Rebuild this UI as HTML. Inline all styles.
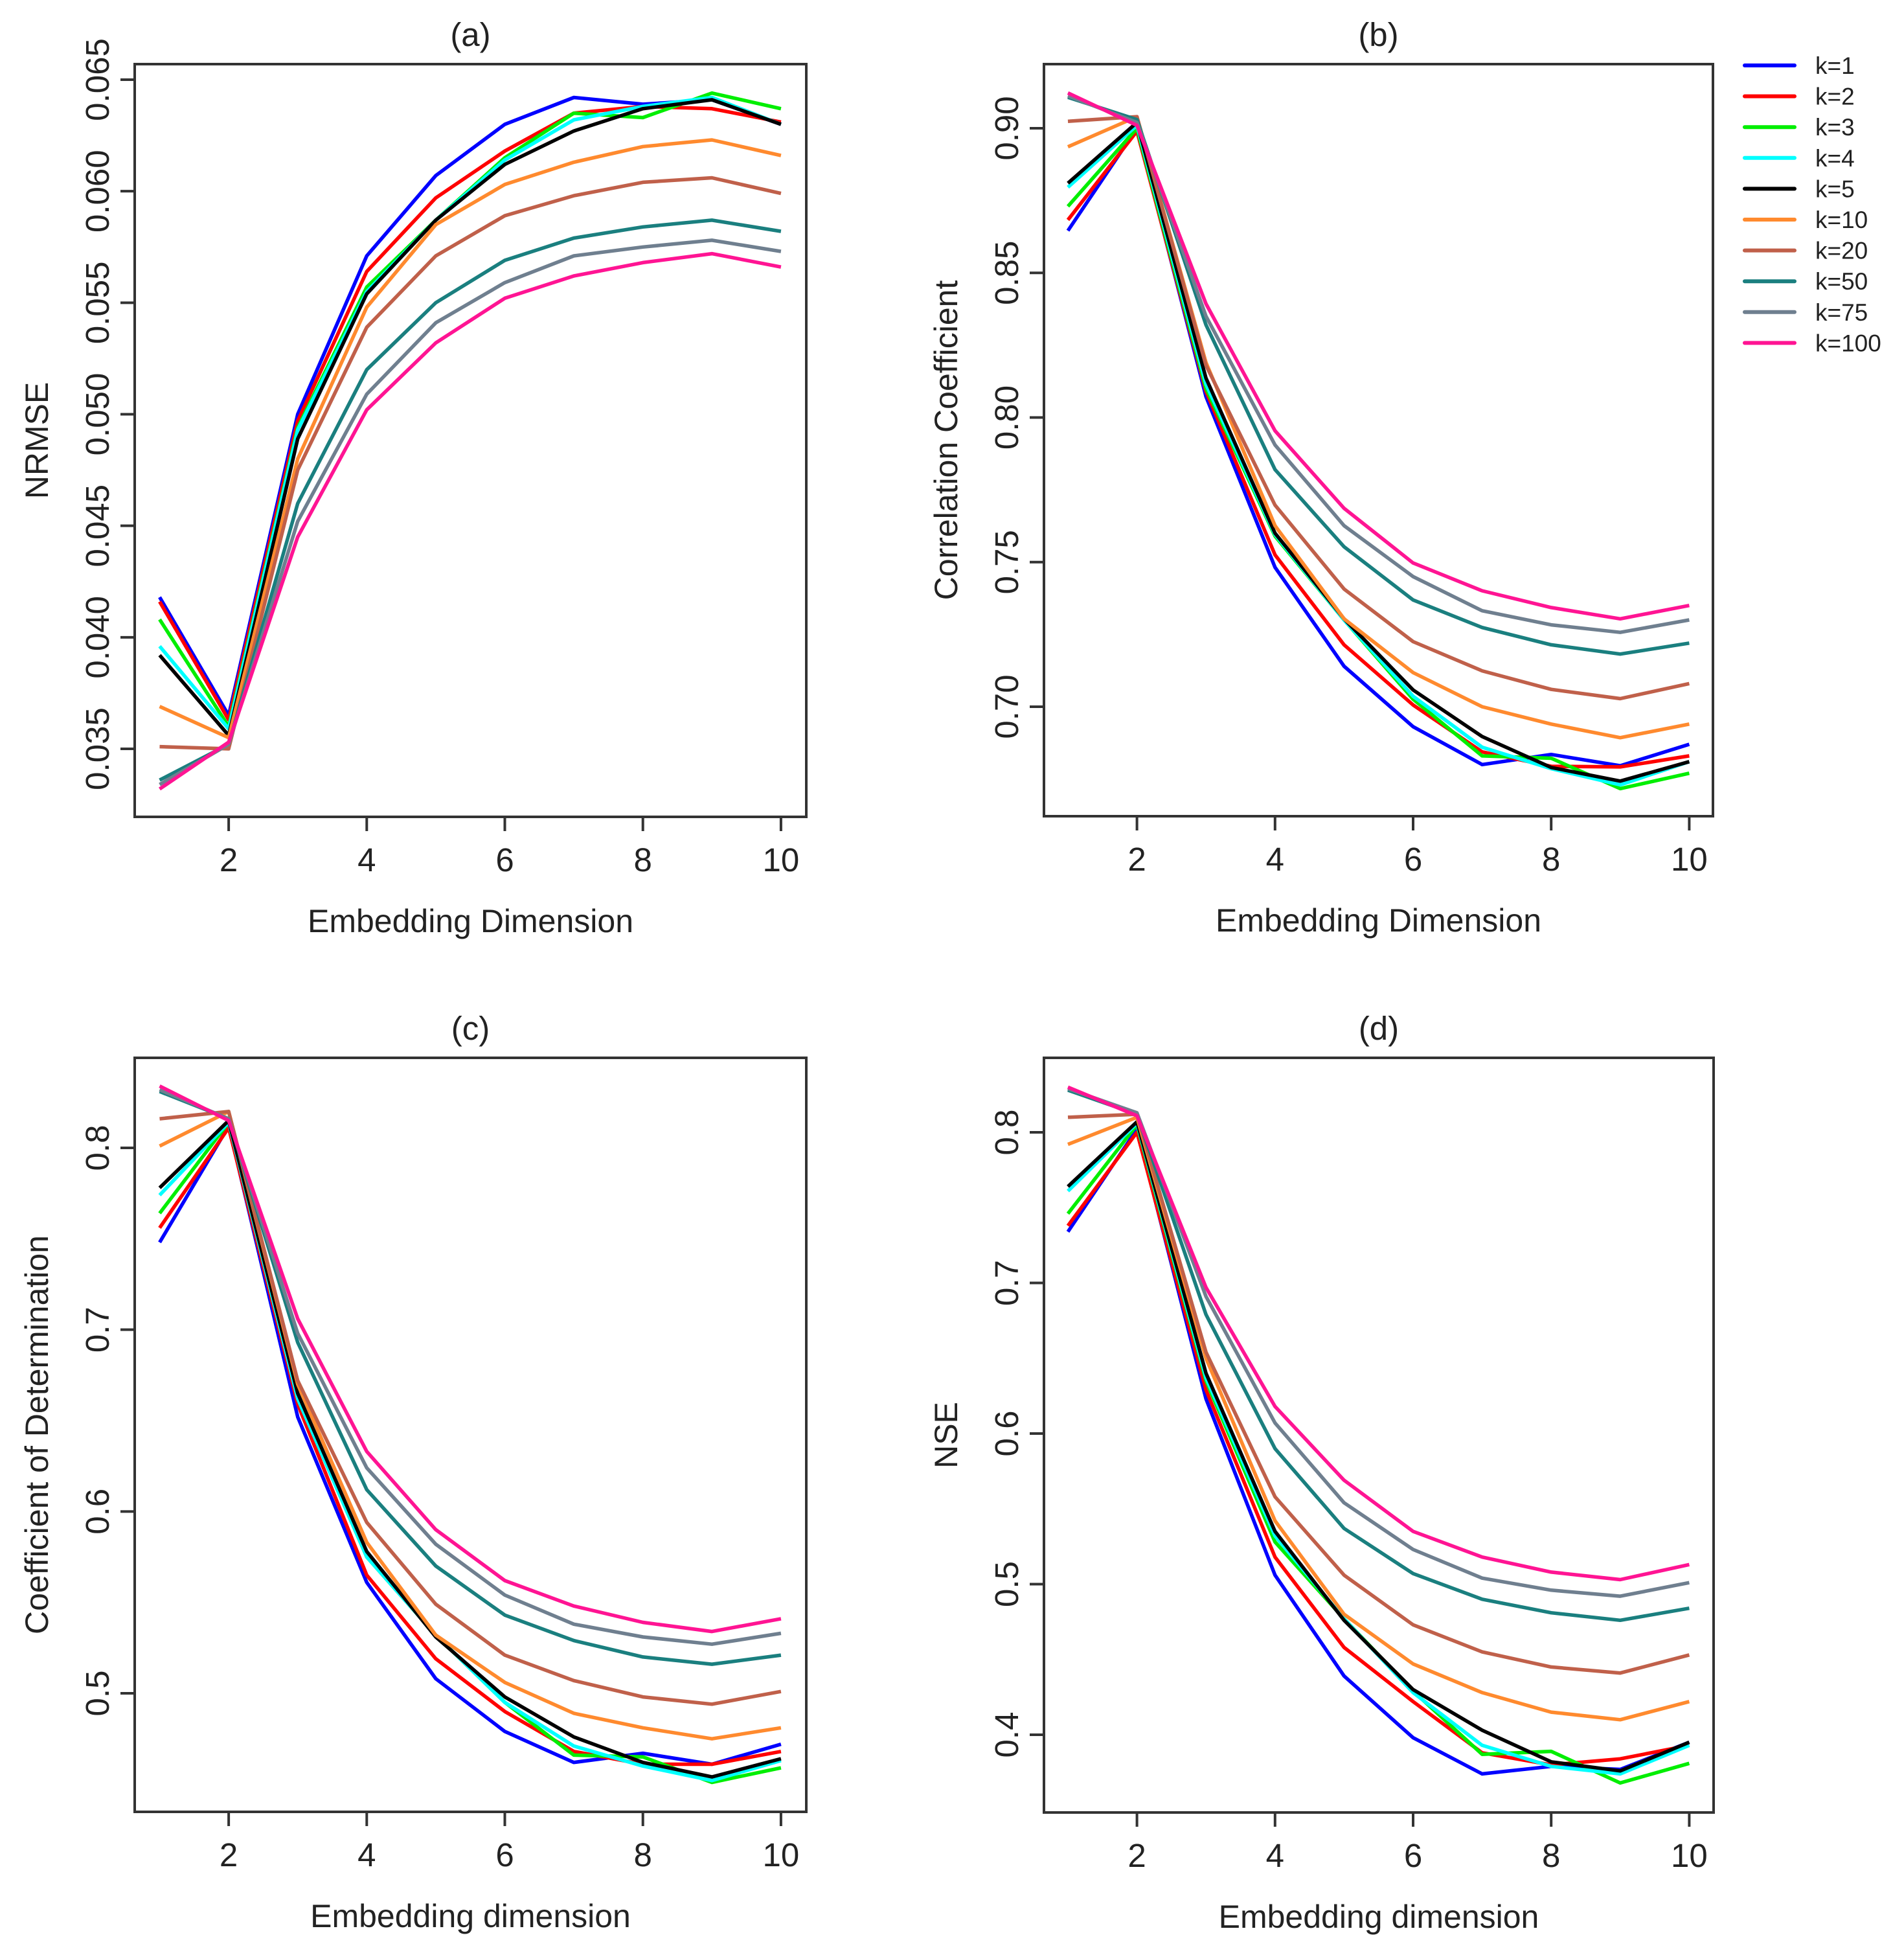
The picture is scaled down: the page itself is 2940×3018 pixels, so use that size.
<!DOCTYPE html>
<html><head><meta charset="utf-8"><style>
html,body{margin:0;padding:0;background:#fff;}
svg{display:block;font-family:"Liberation Sans",Arial,sans-serif;}
</style></head><body>
<svg id="chart" width="2940" height="3018" viewBox="0 0 2940 3018" xmlns="http://www.w3.org/2000/svg"></svg>
<script>
const xCategories = [1,2,3,4,5,6,7,8,9,10];
const seriesNames = ["k=1","k=2","k=3","k=4","k=5","k=10","k=20","k=50","k=75","k=100"];
const seriesColors = ["#0000ff","#ff0000","#00ee00","#00ffff","#000000","#ff8a2e","#c0604a","#1a7f7f","#6f7f8f","#ff1493"];
const xTickLabels = [2,4,6,8,10];

const nrmseValues = [
 [0.0418,0.0365,0.0500,0.0571,0.0607,0.0630,0.0642,0.0639,0.0641,0.0630],
 [0.0416,0.0363,0.0497,0.0564,0.0597,0.0618,0.0635,0.0638,0.0637,0.0631],
 [0.0408,0.0360,0.0494,0.0557,0.0587,0.0615,0.0635,0.0633,0.0644,0.0637],
 [0.0396,0.0359,0.0493,0.0555,0.0587,0.0614,0.0632,0.0638,0.0642,0.0630],
 [0.0392,0.0356,0.0489,0.0554,0.0587,0.0612,0.0627,0.0637,0.0641,0.0630],
 [0.0369,0.0355,0.0480,0.0548,0.0585,0.0603,0.0613,0.0620,0.0623,0.0616],
 [0.0351,0.0350,0.0475,0.0539,0.0571,0.0589,0.0598,0.0604,0.0606,0.0599],
 [0.0336,0.0352,0.0460,0.0520,0.0550,0.0569,0.0579,0.0584,0.0587,0.0582],
 [0.0334,0.0352,0.0452,0.0509,0.0541,0.0559,0.0571,0.0575,0.0578,0.0573],
 [0.0332,0.0353,0.0445,0.0502,0.0532,0.0552,0.0562,0.0568,0.0572,0.0566]
];
const nrmseTicks = [0.035,0.040,0.045,0.050,0.055,0.060,0.065];
const nrmseTickLabels = ["0.035","0.040","0.045","0.050","0.055","0.060","0.065"];

const corrValues = [
 [0.8646,0.900,0.8072,0.7482,0.714,0.6931,0.680,0.6835,0.6796,0.687],
 [0.8683,0.899,0.809,0.7525,0.7214,0.7006,0.6844,0.6794,0.6792,0.683],
 [0.873,0.900,0.810,0.759,0.730,0.7026,0.683,0.6822,0.6717,0.677],
 [0.8796,0.901,0.8115,0.7595,0.730,0.7036,0.686,0.6786,0.673,0.681],
 [0.881,0.902,0.8136,0.760,0.7304,0.7058,0.6897,0.679,0.6743,0.681],
 [0.8936,0.904,0.819,0.7626,0.7304,0.7118,0.700,0.694,0.6893,0.694],
 [0.9024,0.904,0.818,0.7697,0.7407,0.7225,0.7124,0.706,0.7028,0.708],
 [0.9107,0.903,0.832,0.782,0.7553,0.7369,0.7274,0.7214,0.7182,0.722],
 [0.9112,0.902,0.835,0.7905,0.7626,0.745,0.7332,0.7283,0.7257,0.730],
 [0.9122,0.901,0.8393,0.7954,0.7686,0.7497,0.7401,0.7343,0.7304,0.735]
];
const corrTicks = [0.70,0.75,0.80,0.85,0.90];
const corrTickLabels = ["0.70","0.75","0.80","0.85","0.90"];

const cdValues = [
 [0.748,0.812,0.652,0.561,0.508,0.479,0.462,0.467,0.461,0.472],
 [0.756,0.811,0.659,0.565,0.519,0.490,0.468,0.461,0.461,0.468],
 [0.764,0.814,0.662,0.575,0.532,0.495,0.466,0.465,0.451,0.459],
 [0.774,0.814,0.662,0.575,0.532,0.495,0.471,0.460,0.452,0.463],
 [0.778,0.815,0.665,0.578,0.531,0.498,0.476,0.462,0.454,0.464],
 [0.801,0.820,0.670,0.583,0.532,0.506,0.489,0.481,0.475,0.481],
 [0.816,0.820,0.672,0.594,0.549,0.521,0.507,0.498,0.494,0.501],
 [0.831,0.816,0.693,0.612,0.570,0.543,0.529,0.520,0.516,0.521],
 [0.832,0.816,0.698,0.624,0.582,0.554,0.538,0.531,0.527,0.533],
 [0.834,0.815,0.706,0.633,0.590,0.562,0.548,0.539,0.534,0.541]
];
const cdTicks = [0.5,0.6,0.7,0.8];
const cdTickLabels = ["0.5","0.6","0.7","0.8"];

const nseValues = [
 [0.734,0.802,0.623,0.506,0.439,0.398,0.374,0.379,0.377,0.395],
 [0.738,0.800,0.629,0.518,0.458,0.422,0.388,0.380,0.384,0.393],
 [0.746,0.805,0.635,0.528,0.477,0.429,0.387,0.389,0.368,0.381],
 [0.761,0.806,0.637,0.532,0.477,0.428,0.393,0.379,0.374,0.393],
 [0.764,0.807,0.640,0.535,0.476,0.430,0.403,0.382,0.376,0.395],
 [0.792,0.810,0.650,0.542,0.480,0.447,0.428,0.415,0.410,0.422],
 [0.810,0.812,0.654,0.558,0.506,0.473,0.455,0.445,0.441,0.453],
 [0.828,0.812,0.679,0.590,0.537,0.507,0.490,0.481,0.476,0.484],
 [0.829,0.813,0.691,0.607,0.554,0.523,0.504,0.496,0.492,0.501],
 [0.830,0.811,0.697,0.618,0.569,0.535,0.518,0.508,0.503,0.513]
];
const nseTicks = [0.4,0.5,0.6,0.7,0.8];
const nseTickLabels = ["0.4","0.5","0.6","0.7","0.8"];

const NS = "http://www.w3.org/2000/svg";
const svg = document.getElementById("chart");
function mk(tag, attrs, parent){
  const e = document.createElementNS(NS, tag);
  for (const k in attrs) e.setAttribute(k, attrs[k]);
  (parent||svg).appendChild(e);
  return e;
}

function panel(cfg){
  const g = mk("g", {});
  
  
  const xs = v => cfg.x1 + (v - 1) * 106.6;
  const ys = v => cfg.yA + (v - cfg.vA) / (cfg.vB - cfg.vA) * (cfg.yB - cfg.yA);
  cfg.values.forEach((arr, i) => {
    const pts = arr.map((v, j) => xs(xCategories[j]).toFixed(1) + "," + ys(v).toFixed(1)).join(" ");
    const pl = mk("polyline", {points: pts, fill: "none", stroke: seriesColors[i], "stroke-width": 5.5, "stroke-linejoin": "round"}, g);
    
    
  });
  const box = mk("rect", {x: cfg.L, y: cfg.T, width: cfg.R - cfg.L, height: cfg.B - cfg.T, fill: "none", stroke: "#333", "stroke-width": 4}, g);
  
  
  xTickLabels.forEach(t => {
    const x = xs(t);
    mk("line", {x1: x, y1: cfg.B, x2: x, y2: cfg.B + 22, stroke: "#333", "stroke-width": 4}, g);
    const tx = mk("text", {x: x, y: cfg.B + 84, "font-size": 51, "text-anchor": "middle", fill: "#222"}, g);
    tx.textContent = t;
    
    
  });
  cfg.ticks.forEach((t, i) => {
    const y = ys(t);
    mk("line", {x1: cfg.L, y1: y, x2: cfg.L - 22, y2: y, stroke: "#333", "stroke-width": 4}, g);
    const tx = mk("text", {x: 0, y: 0, "font-size": 51, "text-anchor": "middle", fill: "#222", transform: "translate(" + (cfg.L - 40) + "," + y + ") rotate(-90)"}, g);
    tx.textContent = cfg.tickLabels[i];
    
    
  });
  const cx = (cfg.L + cfg.R) / 2;
  const title = mk("text", {x: cx, y: cfg.T - 28, "font-size": 51, "text-anchor": "middle", fill: "#222"}, g);
  title.textContent = cfg.title;
  
  
  const xl = mk("text", {x: cx, y: cfg.B + 178, "font-size": 50, "text-anchor": "middle", fill: "#222"}, g);
  xl.textContent = cfg.xlabel;
  
  
  const cy = (cfg.T + cfg.B) / 2;
  const yl = mk("text", {x: 0, y: 0, "font-size": 50, "text-anchor": "middle", fill: "#222", transform: "translate(" + (cfg.L - 134) + "," + cy + ") rotate(-90)"}, g);
  yl.textContent = cfg.ylabel;
  
  
}

panel({name: "panel-a-nrmse", short: "a", title: "(a)", xlabel: "Embedding Dimension", ylabel: "NRMSE",
  L: 208, R: 1245, T: 99, B: 1261, x1: 246.5, vA: 0.065, yA: 123, vB: 0.035, yB: 1156,
  values: nrmseValues, ticks: nrmseTicks, tickLabels: nrmseTickLabels});
panel({name: "panel-b-correlation", short: "b", title: "(b)", xlabel: "Embedding Dimension", ylabel: "Correlation Coefficient",
  L: 1612, R: 2645, T: 99, B: 1260, x1: 1649, vA: 0.90, yA: 198, vB: 0.70, yB: 1091,
  values: corrValues, ticks: corrTicks, tickLabels: corrTickLabels});
panel({name: "panel-c-determination", short: "c", title: "(c)", xlabel: "Embedding dimension", ylabel: "Coefficient of Determination",
  L: 208, R: 1245, T: 1633, B: 2797, x1: 246.5, vA: 0.8, yA: 1772, vB: 0.5, yB: 2614,
  values: cdValues, ticks: cdTicks, tickLabels: cdTickLabels});
panel({name: "panel-d-nse", short: "d", title: "(d)", xlabel: "Embedding dimension", ylabel: "NSE",
  L: 1612, R: 2646, T: 1633, B: 2798, x1: 1649, vA: 0.8, yA: 1748, vB: 0.4, yB: 2678,
  values: nseValues, ticks: nseTicks, tickLabels: nseTickLabels});

const lg = mk("g", {});


seriesNames.forEach((n, i) => {
  const y = 101 + i * 47.6;
  const ln = mk("line", {x1: 2694, y1: y, x2: 2771, y2: y, stroke: seriesColors[i], "stroke-width": 6, "stroke-linecap": "round"}, lg);
  
  
  const t = mk("text", {x: 2803, y: y + 13, "font-size": 37, fill: "#222"}, lg);
  t.textContent = n;
  
  
});
</script>
</body></html>
